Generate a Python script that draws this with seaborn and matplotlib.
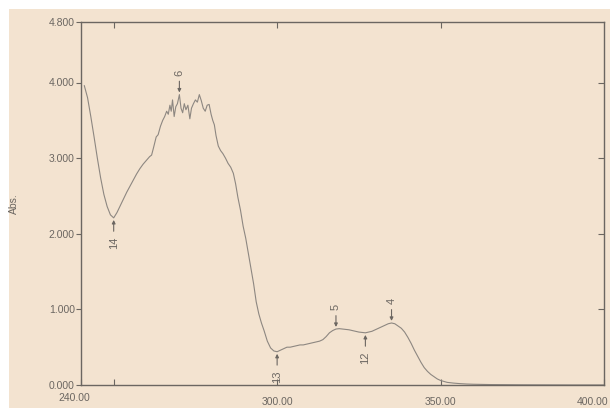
import matplotlib
matplotlib.use("Agg")
import matplotlib.pyplot as plt
from matplotlib.patches import Rectangle
from matplotlib.ticker import FixedLocator, FixedFormatter
import seaborn as sns
import pandas as pd

# UV absorption spectrum (wavelength in nm, absorbance)
wavelength = [241, 242, 243, 244, 245, 246, 247, 248, 249, 250, 251, 252, 253, 254,
              255, 256, 257, 258, 259, 260, 261, 261.6, 262.2, 263, 263.6, 264.3,
              265, 265.6, 266.2, 266.7, 267.2, 267.6, 268, 268.5, 269, 269.5, 270.1,
              270.6, 271.1, 271.6, 272.1, 272.7, 273.3, 273.8, 274.4, 275, 275.6,
              276.2, 276.8, 277.4, 278, 278.6, 279.2, 279.8, 280.3, 280.8, 281.3,
              282, 282.7, 283.4, 284.2, 285, 285.8, 286.6, 287.3, 288, 288.8, 289.6,
              290.4, 291.2, 292, 292.8, 293.6, 294.4, 295.2, 296, 297, 298, 299, 300,
              301, 302, 303, 304, 305, 306, 307, 308, 309, 310, 311, 312, 313, 314,
              315, 316, 317, 318, 319, 320, 321, 322, 323, 324, 325, 326, 327, 328,
              329, 330, 331, 332, 333, 334, 335, 336, 337, 338, 339, 340, 341, 342,
              343, 344, 345, 346, 347, 348, 349, 350, 352, 354, 356, 358, 360, 365,
              370, 375, 380, 385, 390, 395, 400]
absorbance = [3.96, 3.80, 3.55, 3.28, 3.00, 2.74, 2.52, 2.36, 2.25, 2.21, 2.28, 2.37,
              2.46, 2.55, 2.63, 2.71, 2.79, 2.86, 2.92, 2.97, 3.02, 3.04, 3.14, 3.28,
              3.31, 3.42, 3.50, 3.55, 3.62, 3.58, 3.70, 3.62, 3.77, 3.55, 3.68, 3.72,
              3.84, 3.66, 3.60, 3.72, 3.64, 3.70, 3.52, 3.66, 3.72, 3.77, 3.74, 3.84,
              3.76, 3.66, 3.62, 3.70, 3.71, 3.58, 3.50, 3.44, 3.30, 3.16, 3.10, 3.06,
              3.00, 2.93, 2.88, 2.80, 2.66, 2.48, 2.31, 2.10, 1.94, 1.74, 1.54, 1.34,
              1.10, 0.94, 0.82, 0.72, 0.58, 0.49, 0.45, 0.44, 0.46, 0.48, 0.50, 0.50,
              0.51, 0.52, 0.53, 0.53, 0.54, 0.55, 0.56, 0.57, 0.58, 0.60, 0.64, 0.69,
              0.72, 0.74, 0.745, 0.74, 0.735, 0.73, 0.72, 0.71, 0.70, 0.695, 0.69,
              0.70, 0.71, 0.73, 0.75, 0.77, 0.79, 0.81, 0.82, 0.81, 0.78, 0.75, 0.70,
              0.63, 0.55, 0.46, 0.38, 0.30, 0.23, 0.18, 0.14, 0.11, 0.08, 0.06, 0.035,
              0.025, 0.018, 0.013, 0.010, 0.006, 0.004, 0.003, 0.002, 0.002, 0.001,
              0.001, 0.001]

# Picked peaks / valleys: (wavelength, peak number, side of the label)
pick_wavelength = [270.1, 250, 300, 318, 327, 335]
pick_number = ["6", "14", "13", "5", "12", "4"]
pick_side = ["above", "below", "below", "above", "below", "above"]

y_ticks = [0.0, 1.0, 2.0, 3.0, 4.0, 4.8]
x_ticks = [240, 300, 350, 400]
x_tick_labels = ["240.00", "300.00", "350.00", "400.00"]

paper = "#f3e3d0"
ink = "#6b6661"
trace = "#8d8781"

sns.set_style("ticks")
plt.rcParams["font.family"] = ["Liberation Sans", "DejaVu Sans"]

fig = plt.figure(figsize=(6.1, 4.08), dpi=100, facecolor="white")
fig.patches.append(Rectangle((9 / 610, 0), 1, 1 - 9 / 408, transform=fig.transFigure,
                             facecolor=paper, edgecolor="none", zorder=-10))
ax = fig.add_axes([81 / 610, 23 / 408, 523 / 610, 363 / 408])
ax.set_facecolor(paper)

df = pd.DataFrame({"wl": wavelength, "abs": absorbance})
sns.lineplot(data=df, x="wl", y="abs", ax=ax, color=trace, linewidth=0.8)

ax.set_xlim(240, 400)
ax.set_ylim(0, 4.8)

for s in ax.spines.values():
    s.set_color(ink)
    s.set_linewidth(1.0)

ax.yaxis.set_major_locator(FixedLocator(y_ticks))
ax.yaxis.set_major_formatter(FixedFormatter([f"{v:.3f}" for v in y_ticks]))
ax.tick_params(axis="y", direction="out", length=3.5, width=0.8, color=ink,
               labelsize=7.5, labelcolor=ink, pad=1)

# inner x ticks carry labels; the end values are written at the axis corners
ax.xaxis.set_major_locator(FixedLocator(x_ticks))
ax.xaxis.set_major_formatter(FixedFormatter(["", x_tick_labels[1], x_tick_labels[2], ""]))
ax.xaxis.set_minor_locator(FixedLocator([250]))
ax.tick_params(axis="x", which="both", direction="in", length=4, width=0.8,
               color=ink, labelsize=7.5, labelcolor=ink, pad=8.5)
ax.annotate(x_tick_labels[0], xy=(x_ticks[0], 0), xycoords=("data", "axes fraction"),
            xytext=(-4.5, -6), textcoords="offset points", ha="center", va="top",
            fontsize=7.5, color=ink, annotation_clip=False)
ax.annotate(x_tick_labels[-1], xy=(x_ticks[-1], 0), xycoords=("data", "axes fraction"),
            xytext=(3, -8.5), textcoords="offset points", ha="right", va="top",
            fontsize=7.5, color=ink, annotation_clip=False)

top = ax.secondary_xaxis("top")
top.set_xticks([250, 300, 350])
top.tick_params(direction="in", length=4, width=0.8, color=ink, labeltop=False)
top.spines["top"].set_visible(False)

right = ax.secondary_yaxis("right")
right.set_yticks([1, 2, 3, 4])
right.tick_params(direction="in", length=4, width=0.8, color=ink, labelright=False)
right.spines["right"].set_visible(False)

ax.set_xlabel("")
ax.set_ylabel("Abs.", fontsize=7.5, color=ink)
ax.yaxis.set_label_coords(-0.118, 0.5)

for w, num, side in zip(pick_wavelength, pick_number, pick_side):
    i = min(range(len(wavelength)), key=lambda k: abs(wavelength[k] - w))
    xv, yv = wavelength[i], absorbance[i]
    sign = 1 if side == "above" else -1
    ax.annotate(num, xy=(xv, yv), xytext=(0, sign * 13.5), textcoords="offset points",
                rotation=90, ha="center", va="bottom" if sign > 0 else "top",
                fontsize=8, color=ink,
                arrowprops=dict(arrowstyle="-|>", color=ink, lw=0.8,
                                mutation_scale=5, shrinkA=1.5, shrinkB=1.5))

fig.savefig("out.png", dpi=100, facecolor="white")
